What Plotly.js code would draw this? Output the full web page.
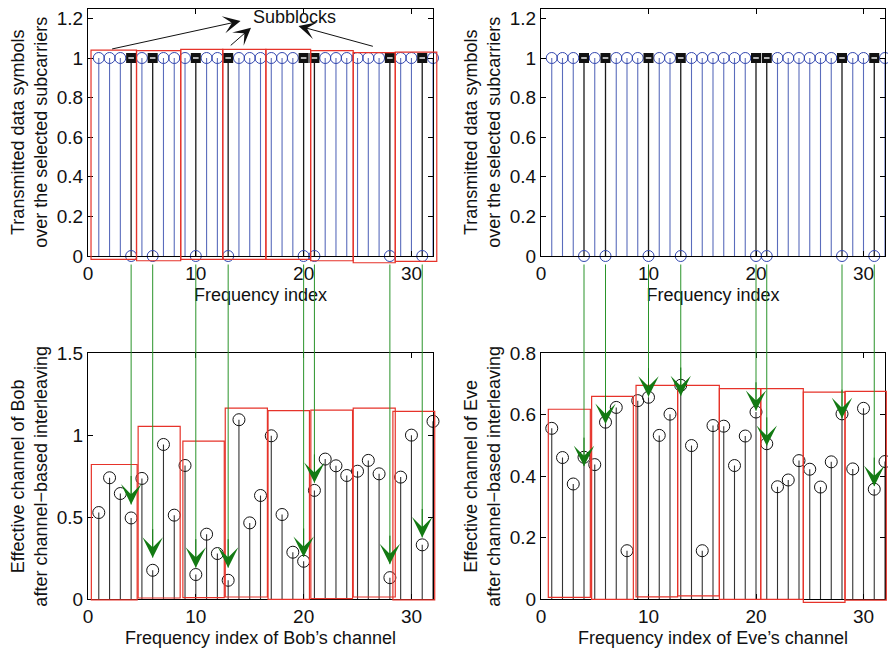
<!DOCTYPE html>
<html><head><meta charset="utf-8">
<script src="https://cdn.plot.ly/plotly-3.0.1.min.js"></script>
<style>html,body{margin:0;padding:0;background:#fff}#chart{width:888px;height:649px}</style>
</head><body><div id="chart"></div>
<script>
// ---------- data ----------
const indices = [1,2,3,4,5,6,7,8,9,10,11,12,13,14,15,16,17,18,19,20,21,22,23,24,25,26,27,28,29,30,31,32];
const txSymbols = [1,1,1,0,1,0,1,1,1,0,1,1,0,1,1,1,1,1,1,0,0,1,1,1,1,1,1,0,1,1,0,1];
const selectedIdx = [4,6,10,13,20,21,28,31];
const selectedSymbols = [1,1,1,1,1,1,1,1];
const bobChannel = [0.529,0.741,0.645,0.496,0.737,0.177,0.944,0.513,0.816,0.151,0.397,0.279,0.116,1.095,0.466,0.633,
                    0.997,0.517,0.287,0.232,0.664,0.855,0.814,0.755,0.781,0.847,0.765,0.132,0.745,1.001,0.332,1.085];
const eveChannel = [0.556,0.461,0.375,0.462,0.438,0.576,0.624,0.158,0.646,0.657,0.533,0.602,0.696,0.500,0.158,0.565,
                    0.563,0.435,0.531,0.609,0.506,0.366,0.388,0.451,0.423,0.365,0.447,0.603,0.424,0.621,0.358,0.448];
const bobArrowTips = [0.578,0.254,0.193,0.193,0.258,0.710,0.214,0.377];
const eveArrowTips = [0.433,0.570,0.659,0.661,0.613,0.499,0.589,0.368];

// subblock outlines (frequency index / value units)
const tlBlockStart = [0.28,4.5,8.6,12.5,16.5,20.65,24.6,28.5];
const tlBlockEnd   = [4.5,8.6,12.5,16.5,20.65,24.6,28.5,32.35];
const tlBlockTop   = [1.040,1.037,1.044,1.044,1.044,1.037,1.027,1.030];
const tlBlockBot   = [-0.017,-0.024,-0.017,-0.017,-0.017,-0.024,-0.034,-0.027];
const blBlockStart = [0.31,4.65,8.8,12.73,16.7,20.67,24.6,28.28];
const blBlockEnd   = [4.56,8.55,12.64,16.64,20.54,24.54,28.5,32.16];
const blBlockTop   = [0.822,1.054,0.965,1.166,1.150,1.154,1.166,1.146];
const blBlockBot   = [-0.004,0.008,0.010,0.014,0,0.004,0.014,-0.004];
const brBlockStart = [0.68,4.71,8.84,12.71,16.59,20.44,24.4,28.28];
const brBlockEnd   = [4.59,8.59,12.71,16.59,20.44,24.4,28.28,32.12];
const brBlockTop   = [0.618,0.660,0.696,0.696,0.685,0.685,0.674,0.676];
const brBlockBot   = [0.0065,0,0.008,0.011,0,0,-0.010,-0.003];

// "Subblocks" pointer arrows (head / tail, top-left axes units)
const subHeadX = [14.15,15.12,19.52];
const subHeadY = [1.187,1.153,1.162];
const subTailX = [2.1,13.1,26.56];
const subTailY = [1.044,1.057,1.057];

// ---------- geometry ----------
const W = 888, H = 649;
const leftPx = [88, 433], rightPx = [541, 885];
const topPx = [8.5, 256], botPx = [353.3, 599.3];
const xRange = [0, 32];
const greenStartPx = 263;
function xdom(p){ return [p[0]/W, p[1]/W]; }
function ydom(p){ return [(H-p[1])/H, (H-p[0])/H]; }

const FONT = '"Liberation Sans", Arial, Helvetica, sans-serif';
function axisX(dom, anchor, title){
  return {domain: dom, anchor: anchor, range: xRange, tickmode:'linear', tick0:0, dtick:10,
    ticks:'inside', ticklen:5, tickcolor:'#000', mirror:'allticks', showline:true, linecolor:'#000', linewidth:1,
    showgrid:false, zeroline:false, tickfont:{size:19, color:'#111'}, automargin:false,
    title:{text:title, font:{size:18, color:'#111'}, standoff:5}};
}
function axisY(dom, anchor, range, dtick, title){
  return {domain: dom, anchor: anchor, range: range, tickmode:'linear', tick0:0, dtick:dtick,
    ticks:'inside', ticklen:5, tickcolor:'#000', mirror:'allticks', showline:true, linecolor:'#000', linewidth:1,
    showgrid:false, zeroline:false, tickfont:{size:19, color:'#111'}, automargin:false,
    title:{text:title, font:{size:18, color:'#111'}, standoff:4}};
}

function stems(xs, ys, color, width, xa, ya){
  const x = [], y = [];
  xs.forEach((v,i)=>{ x.push(v, v, null); y.push(0, ys[i], null); });
  return {type:'scatter', mode:'lines', x:x, y:y, xaxis:xa, yaxis:ya, cliponaxis:false,
          line:{color:color, width:width}, hoverinfo:'skip'};
}
function markers(xs, ys, symbol, size, color, lw, xa, ya){
  return {type:'scatter', mode:'markers', x:xs, y:ys, xaxis:xa, yaxis:ya, cliponaxis:false,
    marker:{symbol:symbol, size:size, color:color, line:{color:color, width:lw}}, hoverinfo:'skip'};
}

const BLUE_STEM = '#5a6cbc', BLUE = '#3347b0';
const traces = [];
// top-left and top-right panels
[['x','y'],['x2','y2']].forEach(([xa,ya])=>{
  traces.push(stems(indices, txSymbols, BLUE_STEM, 1.1, xa, ya));
  traces.push(stems(selectedIdx, selectedSymbols, '#1a1a1a', 1.3, xa, ya));
  traces.push(markers(indices, txSymbols, 'circle-open', 11, BLUE, 1, xa, ya));
  traces.push(markers(selectedIdx, selectedSymbols, 'square', 10, '#111', 0, xa, ya));
  traces.push(markers(selectedIdx, selectedSymbols, 'line-ew', 4, '#fff', 1.4, xa, ya));
});
// bottom panels
traces.push(stems(indices, bobChannel, '#333', 1.1, 'x3', 'y3'));
traces.push(markers(indices, bobChannel, 'circle-open', 12, '#111', 1, 'x3', 'y3'));
traces.push(stems(indices, eveChannel, '#333', 1.1, 'x4', 'y4'));
traces.push(markers(indices, eveChannel, 'circle-open', 12, '#111', 1, 'x4', 'y4'));

// shapes: subblock rectangles
const RED = '#e6332a';
const shapes = [];
function addBlocks(starts, ends, tops, bots, xa, ya, yMax){
  starts.forEach((s,i)=>{
    shapes.push({type:'rect', xref:xa+' domain', yref:ya+' domain',
      x0:(s-xRange[0])/(xRange[1]-xRange[0]), x1:(ends[i]-xRange[0])/(xRange[1]-xRange[0]),
      y0:bots[i]/yMax, y1:tops[i]/yMax, line:{color:RED, width:1.2}, fillcolor:'rgba(0,0,0,0)'});
  });
}
addBlocks(tlBlockStart, tlBlockEnd, tlBlockTop, tlBlockBot, 'x', 'y', 1.25);
addBlocks(blBlockStart, blBlockEnd, blBlockTop, blBlockBot, 'x3', 'y3', 1.5);
addBlocks(brBlockStart, brBlockEnd, brBlockTop, brBlockBot, 'x4', 'y4', 0.8);

// annotations
const GREEN = '#2a932a', GREEN_HEAD = '#137a13';
const annotations = [];
function addGreen(tips, xa, ya, yMax){
  const h = botPx[1]-botPx[0];
  selectedIdx.forEach((idx,i)=>{
    const tipPx = botPx[1] - tips[i]/yMax*h;
    annotations.push({xref:xa, yref:ya, x:idx, y:tips[i], ax:0, ay:-(tipPx-greenStartPx),
      text:'', showarrow:true, arrowhead:0, arrowwidth:1, arrowcolor:GREEN, standoff:0});
    annotations.push({xref:xa, yref:ya, x:idx, y:tips[i], ax:0, ay:-30,
      text:'', showarrow:true, arrowhead:3, arrowsize:3.4, arrowwidth:1, arrowcolor:GREEN_HEAD, standoff:0});
  });
}
addGreen(bobArrowTips, 'x3', 'y3', 1.5);
addGreen(eveArrowTips, 'x4', 'y4', 0.8);
subHeadX.forEach((hx,i)=>{
  annotations.push({xref:'x', yref:'y', axref:'x', ayref:'y', x:hx, y:subHeadY[i], ax:subTailX[i], ay:subTailY[i],
    text:'', showarrow:true, arrowhead:3, arrowsize:2.9, arrowwidth:1, arrowcolor:'#111', standoff:0});
});
annotations.push({xref:'x', yref:'y', x:19.14, y:1.209, text:'Subblocks', showarrow:false,
  font:{size:18, color:'#111'}, xanchor:'center', yanchor:'middle'});

const layout = {
  width: W, height: H, margin:{l:0,r:0,t:0,b:0},
  paper_bgcolor:'#fff', plot_bgcolor:'#fff', showlegend:false,
  font:{family:FONT, size:18, color:'#111'},
  xaxis: axisX(xdom(leftPx), 'y', 'Frequency index'),
  yaxis: axisY(ydom(topPx), 'x', [0,1.25], 0.2, 'Transmitted data symbols<br>over the selected subcarriers'),
  xaxis2: axisX(xdom(rightPx), 'y2', 'Frequency index'),
  yaxis2: axisY(ydom(topPx), 'x2', [0,1.25], 0.2, 'Transmitted data symbols<br>over the selected subcarriers'),
  xaxis3: axisX(xdom(leftPx), 'y3', 'Frequency index of Bob’s channel'),
  yaxis3: axisY(ydom(botPx), 'x3', [0,1.5], 0.5, 'Effective channel of Bob<br>after channel−based interleaving'),
  xaxis4: axisX(xdom(rightPx), 'y4', 'Frequency index of Eve’s channel'),
  yaxis4: axisY(ydom(botPx), 'x4', [0,0.8], 0.2, 'Effective channel of Eve<br>after channel−based interleaving'),
  shapes: shapes, annotations: annotations
};
Plotly.newPlot('chart', traces, layout, {staticPlot:true, displayModeBar:false});
</script>
</body></html>
